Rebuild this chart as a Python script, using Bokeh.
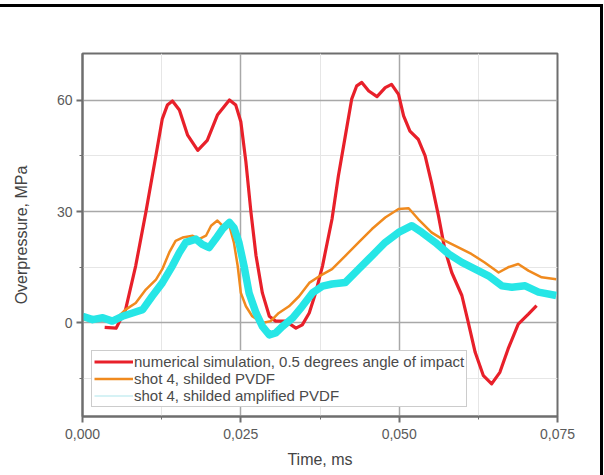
from bokeh.plotting import figure
from bokeh.models import Range1d, FixedTicker, Legend, LegendItem
from bokeh.embed import file_html
from bokeh.resources import INLINE

# ---- data ----
red_t = [0.0035, 0.0053, 0.0068, 0.0084, 0.0100, 0.0116, 0.0126, 0.0134, 0.0142, 0.0153,
         0.0166, 0.0182, 0.0197, 0.0213, 0.0232, 0.0242, 0.0250, 0.0258, 0.0266, 0.0274,
         0.0284, 0.0295, 0.0305, 0.0321, 0.0337, 0.0347, 0.0358, 0.0368, 0.0379, 0.0394,
         0.0404, 0.0415, 0.0425, 0.0433, 0.0441, 0.0452, 0.0465, 0.0478, 0.0488, 0.0499,
         0.0507, 0.0517, 0.0530, 0.0541, 0.0551, 0.0562, 0.0572, 0.0583, 0.0599, 0.0609,
         0.0620, 0.0633, 0.0646, 0.0659, 0.0672, 0.0688, 0.0704, 0.0717]
red_p = [-1.2, -1.4, 3.6, 15.4, 29.8, 45.2, 55.0, 58.7, 59.8, 57.4,
         50.6, 46.5, 49.2, 56.0, 60.1, 58.7, 54.2, 43.4, 29.8, 18.1,
         8.1, 1.8, 0.5, 0.5, -1.4, -0.5, 2.7, 8.1, 15.4, 28.0,
         39.6, 50.4, 60.3, 63.9, 64.8, 62.5, 61.0, 63.4, 64.3, 61.6,
         55.8, 51.7, 49.5, 45.0, 37.8, 28.9, 19.9, 13.6, 7.4, 0.2,
         -7.9, -14.2, -16.4, -13.3, -7.0, -0.3, 2.4, 4.7]

or_t = [0.0, 0.0020, 0.0040, 0.0055, 0.0068, 0.0084, 0.0100, 0.0116, 0.0126, 0.0137,
        0.0147, 0.0158, 0.0174, 0.0184, 0.0195, 0.0203, 0.0213, 0.0221, 0.0232, 0.0239,
        0.0245, 0.0250, 0.0258, 0.0268, 0.0284, 0.0297, 0.0310, 0.0326, 0.0342, 0.0358,
        0.0374, 0.0394, 0.0415, 0.0436, 0.0457, 0.0478, 0.0499, 0.0515, 0.0530, 0.0551,
        0.0572, 0.0599, 0.0614, 0.0635, 0.0657, 0.0672, 0.0688, 0.0704, 0.0725, 0.0748]
or_p = [1.0, 0.5, 0.8, 1.5, 3.6, 5.4, 9.0, 11.7, 14.5, 19.0,
        22.1, 23.0, 23.5, 22.6, 23.5, 26.2, 27.6, 26.2, 26.2, 21.7,
        15.4, 8.1, 4.5, 1.8, 0.0, 0.5, 2.7, 4.5, 7.2, 10.8,
        12.6, 14.5, 18.1, 21.7, 25.3, 28.4, 30.7, 30.9, 28.0, 24.4,
        22.2, 19.9, 18.6, 16.3, 13.6, 15.0, 15.9, 14.1, 12.3, 11.8]

cy_t = [0.0, 0.0016, 0.0032, 0.0047, 0.0063, 0.0079, 0.0095, 0.0110, 0.0126, 0.0142,
        0.0153, 0.0163, 0.0179, 0.0189, 0.0200, 0.0210, 0.0221, 0.0232, 0.0239, 0.0247,
        0.0255, 0.0263, 0.0274, 0.0284, 0.0295, 0.0305, 0.0316, 0.0332, 0.0347, 0.0363,
        0.0379, 0.0394, 0.0415, 0.0436, 0.0457, 0.0478, 0.0499, 0.0520, 0.0536, 0.0557,
        0.0578, 0.0599, 0.0620, 0.0641, 0.0662, 0.0678, 0.0699, 0.0720, 0.0748]
cy_p = [1.8, 0.9, 1.4, 0.5, 1.8, 2.7, 3.6, 7.2, 10.8, 15.4,
        19.0, 21.7, 22.6, 21.2, 20.3, 22.6, 25.3, 27.1, 25.7, 21.7,
        15.4, 8.1, 2.7, -0.9, -3.2, -2.7, -0.9, 1.4, 4.5, 8.1,
        9.9, 10.5, 10.9, 14.5, 18.1, 21.7, 24.4, 26.2, 24.4, 21.7,
        18.6, 16.3, 14.5, 12.7, 10.0, 9.6, 10.0, 8.3, 7.4]

labels = ["numerical simulation, 0.5 degrees angle of impact",
          "shot 4, shilded PVDF",
          "shot 4, shilded amplified PVDF"]

x_ticks = [0.0, 0.025, 0.05, 0.075]
x_tick_labels = ["0,000", "0,025", "0,050", "0,075"]
x_minor = [0.0125, 0.0375, 0.0625]
y_ticks = [-30, 0, 30, 60]
y_minor = [-15, 15, 45]

FONT = "Liberation Sans"

p = figure(width=603, height=471, output_backend="svg", toolbar_location=None,
           x_range=Range1d(0, 0.075), y_range=Range1d(-25.2, 72.6),
           min_border_left=82, min_border_right=46, min_border_top=46, min_border_bottom=62)
p.styles = {"margin-top": "4px",
            "border-top": "3px solid black",
            "border-right": "3px solid black"}

r1 = p.line(red_t, red_p, line_color="#e8202a", line_width=3.2, line_join="round")
r2 = p.line(or_t, or_p, line_color="#f08a1e", line_width=2.5, line_join="round")
# thin pale line (the legend glyph of the amplified trace), covered by the thick trace
r3 = p.line(cy_t, cy_p, line_color="#c8eef2", line_width=1.5, line_join="round")
p.line(cy_t, cy_p, line_color="#26e6e6", line_width=7.5, line_join="round")

xt = FixedTicker(ticks=x_ticks, minor_ticks=x_minor)
yt = FixedTicker(ticks=y_ticks, minor_ticks=y_minor)

p.xaxis.ticker = xt
p.yaxis.ticker = yt
p.xaxis.major_label_overrides = {t: l for t, l in zip(x_ticks, x_tick_labels)}

for ax in (p.xaxis[0], p.yaxis[0]):
    ax.axis_line_color = "#6e6e6e"
    ax.axis_line_width = 2
    ax.major_tick_line_color = "#6e6e6e"
    ax.major_tick_line_width = 2
    ax.minor_tick_line_color = "#6e6e6e"
    ax.major_tick_out = 6
    ax.major_tick_in = 0
    ax.minor_tick_out = 3
    ax.minor_tick_in = 0
    ax.major_label_text_font = FONT
    ax.major_label_text_font_size = "14px"
    ax.major_label_text_color = "#5a5a5a"
    ax.axis_label_text_font = FONT
    ax.axis_label_text_font_style = "normal"
    ax.axis_label_text_color = "#444444"
    ax.axis_label_text_font_size = "16px"

p.xaxis.axis_label = "Time, ms"
p.yaxis.axis_label = "Overpressure, MPa"
p.xaxis.major_label_standoff = 6
p.xaxis.axis_label_standoff = 9
p.yaxis.major_label_standoff = 4
p.yaxis.axis_label_standoff = 24

p.xgrid.ticker = xt
p.ygrid.ticker = yt
for g in (p.xgrid[0], p.ygrid[0]):
    g.grid_line_color = "#a8a8a8"
    g.grid_line_width = 1.5
    g.minor_grid_line_color = "#e6e6e6"
    g.minor_grid_line_width = 1

p.outline_line_color = "#6e6e6e"
p.outline_line_width = 2

legend = Legend(items=[LegendItem(label=labels[0], renderers=[r1]),
                       LegendItem(label=labels[1], renderers=[r2]),
                       LegendItem(label=labels[2], renderers=[r3])],
                location=(9, 9), orientation="vertical",
                padding=2, spacing=0, margin=0,
                glyph_width=39, glyph_height=17, label_height=17, label_standoff=1,
                label_text_font=FONT, label_text_font_size="15px", label_text_color="#4a4a4a",
                border_line_color="#9a9a9a", border_line_width=1.5,
                background_fill_color="white", background_fill_alpha=1)
p.add_layout(legend, "center")

open("out.html", "w").write(file_html(p, INLINE))
